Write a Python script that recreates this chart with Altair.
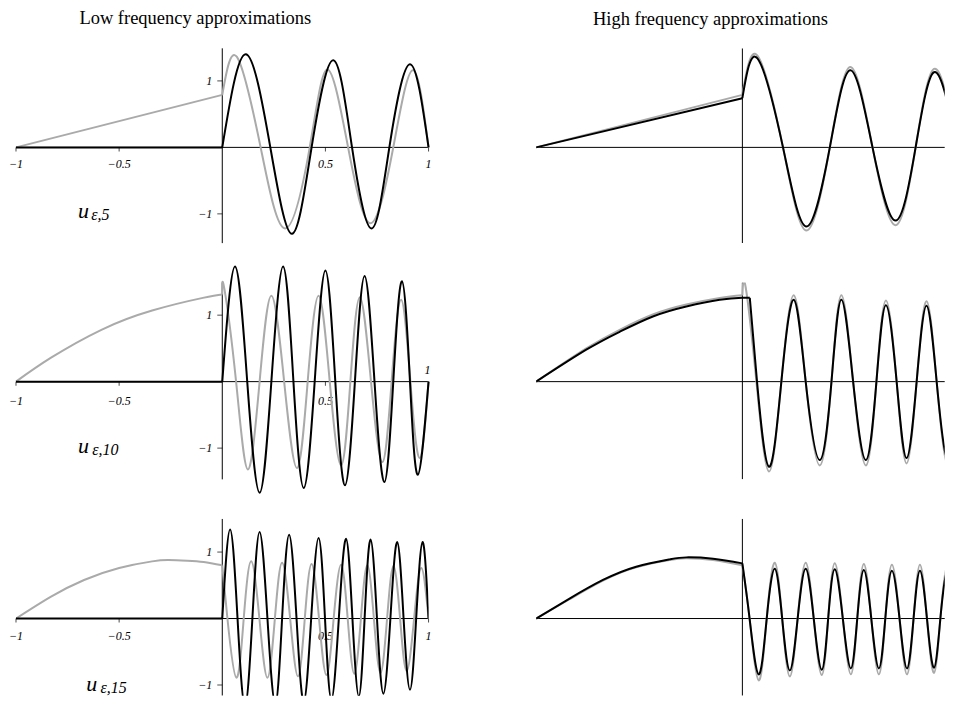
import altair as alt
import pandas as pd

# ---------------- data ----------------
TITLES = ["Low frequency approximations", "High frequency approximations"]
SUBSCRIPTS = ["ε,5", "ε,10", "ε,15"]
X_TICKS = [-1, -0.5, 0.5, 1]
X_TICK_LABELS = ["−1", "−0.5", "0.5", "1"]
Y_TICKS = [1, -1]
Y_TICK_LABELS = ["1", "−1"]

# Row 1, low frequency
L1_BLACK_LX = [-1, 0]
L1_BLACK_LY = [0, 0]
L1_BLACK_RX = [0, 0.114, 0.233, 0.338, 0.433, 0.538, 0.629, 0.724, 0.810, 0.910, 1.0]
L1_BLACK_RY = [0, 1.40, 0, -1.30, 0, 1.31, 0, -1.22, 0, 1.25, 0]
L1_GRAY_LX = [-1, 0]
L1_GRAY_LY = [0, 0.79]
L1_GRAY_RX = [0, 0.071, 0.186, 0.305, 0.424, 0.510, 0.610, 0.719, 0.829, 0.924, 1.0]
L1_GRAY_RY = [0.79, 1.36, 0, -1.22, 0, 1.17, 0, -1.14, 0, 1.16, 0]

# Row 1, high frequency
R1_LX = [-1, 0]
R1_BLACK_LY = [0, 0.74]
R1_GRAY_LY = [0, 0.79]
R1_RX = [0, 0.073, 0.197, 0.311, 0.424, 0.524, 0.631, 0.743, 0.840, 0.929, 1.023]
R1_BLACK_RY = [0.74, 1.34, 0, -1.19, 0, 1.16, 0, -1.10, 0, 1.13, 0.29]
R1_GRAY_RY = [0.79, 1.38, 0, -1.25, 0, 1.21, 0, -1.17, 0, 1.18, 0.31]

# Row 2, low frequency
L2_BLACK_LX = [-1, 0]
L2_BLACK_LY = [0, 0]
L2_BLACK_RX = [0, 0.062, 0.121, 0.181, 0.238, 0.295, 0.345, 0.395, 0.448, 0.500, 0.548,
               0.595, 0.643, 0.690, 0.738, 0.786, 0.829, 0.871, 0.910, 0.948, 1.0]
L2_BLACK_RY = [0, 1.73, 0, -1.67, 0, 1.73, 0, -1.60, 0, 1.67, 0,
               -1.56, 0, 1.59, 0, -1.51, 0, 1.51, 0, -1.40, 0]
L2_GRAY_LX = [-1, -0.83, -0.586, -0.34, -0.094, 0]
L2_GRAY_LY = [0, 0.36, 0.78, 1.07, 1.26, 1.31]
L2_GRAY_RX = [0, 0.010, 0.067, 0.124, 0.181, 0.238, 0.300, 0.362, 0.414, 0.467, 0.521,
              0.576, 0.621, 0.667, 0.721, 0.776, 0.821, 0.867, 0.912, 0.957, 1.0]
L2_GRAY_RY = [1.31, 1.40, 0, -1.32, 0, 1.29, 0, -1.30, 0, 1.29, 0,
              -1.26, 0, 1.27, 0, -1.21, 0, 1.23, 0, -1.15, 0]

# Row 2, high frequency
R2_BLACK_LX = [-1, -0.757, -0.595, -0.434, -0.272, -0.110, 0, 0.036]
R2_BLACK_LY = [0, 0.48, 0.75, 0.98, 1.13, 1.23, 1.26, 1.26]
R2_GRAY_LX = [-1, -0.757, -0.595, -0.434, -0.272, -0.110, 0]
R2_GRAY_LY = [0, 0.50, 0.78, 1.01, 1.16, 1.26, 1.30]
R2_BLACK_RX = [0.036, 0.071, 0.129, 0.189, 0.249, 0.307, 0.375, 0.432, 0.480, 0.537,
               0.599, 0.650, 0.696, 0.748, 0.796, 0.845, 0.893, 0.942, 0.990, 1.023]
R2_BLACK_RY = [1.26, 0, -1.28, 0, 1.23, 0, -1.18, 0, 1.23, 0,
               -1.18, 0, 1.15, 0, -1.15, 0, 1.14, 0, -1.13, -0.35]
R2_GRAY_RX = [0, 0.016, 0.068, 0.129, 0.189, 0.249, 0.307, 0.375, 0.432, 0.480, 0.537,
              0.599, 0.650, 0.696, 0.748, 0.796, 0.845, 0.893, 0.942, 0.990, 1.023]
R2_GRAY_RY = [1.30, 1.42, 0, -1.35, 0, 1.30, 0, -1.26, 0, 1.30, 0,
              -1.26, 0, 1.22, 0, -1.23, 0, 1.21, 0, -1.21, -0.37]

# Row 3, low frequency
L3_BLACK_LX = [-1, 0]
L3_BLACK_LY = [0, 0]
L3_BLACK_RX = [0, 0.038, 0.074, 0.110, 0.146, 0.181, 0.219, 0.257, 0.290, 0.324, 0.360,
               0.395, 0.431, 0.467, 0.498, 0.529, 0.565, 0.600, 0.631, 0.662, 0.690,
               0.719, 0.750, 0.781, 0.815, 0.848, 0.879, 0.910, 0.940, 0.971, 1.0]
L3_BLACK_RY = [0, 1.34, 0, -1.32, 0, 1.30, 0, -1.29, 0, 1.26, 0,
               -1.25, 0, 1.21, 0, -1.22, 0, 1.20, 0, -1.17, 0,
               1.19, 0, -1.13, 0, 1.15, 0, -1.07, 0, 1.15, 0]
L3_GRAY_LX = [-1, -0.83, -0.67, -0.50, -0.34, -0.26, -0.17, -0.09, 0]
L3_GRAY_LY = [0, 0.33, 0.58, 0.76, 0.86, 0.88, 0.87, 0.85, 0.80]
L3_GRAY_RX = [0, 0.025, 0.068, 0.104, 0.140, 0.180, 0.219, 0.255, 0.290, 0.329,
              0.367, 0.400, 0.433, 0.469, 0.505, 0.540, 0.576, 0.608, 0.640, 0.672,
              0.703, 0.735, 0.767, 0.799, 0.830, 0.862, 0.894, 0.930, 0.965, 1.0]
L3_GRAY_RY = [0.80, 0, -0.89, 0, 0.86, 0, -0.89, 0, 0.84, 0,
              -0.87, 0, 0.82, 0, -0.85, 0, 0.81, 0, -0.83, 0,
              0.80, 0, -0.82, 0, 0.79, 0, -0.79, 0, 0.76, 0]

# Row 3, high frequency
R3_LX = [-1, -0.838, -0.676, -0.515, -0.353, -0.272, -0.142, 0]
R3_BLACK_LY = [0, 0.30, 0.58, 0.78, 0.89, 0.92, 0.90, 0.83]
R3_GRAY_LY = [0, 0.29, 0.57, 0.77, 0.88, 0.905, 0.88, 0.80]
R3_RX = [0, 0.035, 0.079, 0.118, 0.157, 0.193, 0.230, 0.268, 0.307, 0.346,
         0.385, 0.416, 0.448, 0.487, 0.526, 0.557, 0.589, 0.625, 0.662, 0.693,
         0.725, 0.762, 0.798, 0.830, 0.861, 0.895, 0.929, 0.960, 0.992, 1.023]
R3_BLACK_RY = [0.83, 0, -0.84, 0, 0.75, 0, -0.78, 0, 0.75, 0,
               -0.77, 0, 0.74, 0, -0.75, 0, 0.73, 0, -0.75, 0,
               0.72, 0, -0.75, 0, 0.72, 0, -0.74, 0, 0.70, 0.33]
R3_GRAY_RY = [0.80, 0, -0.93, 0, 0.84, 0, -0.87, 0, 0.84, 0,
              -0.85, 0, 0.83, 0, -0.84, 0, 0.82, 0, -0.84, 0,
              0.81, 0, -0.84, 0, 0.81, 0, -0.82, 0, 0.78, 0.36]

# ---------------- layout / style ----------------
LEFT_W = 413
RIGHT_W = 409
LEFT_XDOM = [-1, 1]
RIGHT_XDOM = [-1, 0.981]
ROW_DOMAINS = [[-1.44, 1.49], [-1.47, 1.49], [-1.16, 1.50]]
ROW_HEIGHTS = [195, 197, 177]
GRAY = "#aaaaaa"
SERIF = "Liberation Serif"


def sc(dom):
    return alt.Scale(domain=dom, nice=False, zero=False)


def curves(segments, color, xsc, ysc, clip):
    frames = [pd.DataFrame({"x": xs, "y": ys, "seg": i}) for i, (xs, ys) in enumerate(segments)]
    df = pd.concat(frames, ignore_index=True)
    return alt.Chart(df).mark_line(interpolate="natural", color=color, strokeWidth=2, clip=clip).encode(
        x=alt.X("x:Q", scale=xsc, axis=None),
        y=alt.Y("y:Q", scale=ysc, axis=None),
        detail="seg:N",
    )


def axes(xsc, ysc, dom, xmax, clip):
    xa = alt.Chart(pd.DataFrame({"x": [-1], "x2": [xmax], "y": [0]})).mark_rule(
        color="black", strokeWidth=1, clip=clip).encode(
        x=alt.X("x:Q", scale=xsc, axis=None), x2="x2:Q",
        y=alt.Y("y:Q", scale=ysc, axis=None))
    ya = alt.Chart(pd.DataFrame({"x": [0], "y": [dom[0]], "y2": [dom[1]]})).mark_rule(
        color="black", strokeWidth=1, clip=clip).encode(
        x=alt.X("x:Q", scale=xsc, axis=None),
        y=alt.Y("y:Q", scale=ysc, axis=None), y2="y2:Q")
    return [xa, ya]


U_POS = [(-0.70, -1.06, -0.635, -1.09), (-0.70, -1.08, -0.63, -1.11), (-0.66, -1.09, -0.59, -1.12)]


def title(text, dx):
    return alt.TitleParams(text, font=SERIF, fontSize=18.5, fontWeight="normal",
                           color="black", anchor="middle", dx=dx, offset=20.2)


def left_panel(r, gray_segs, black_segs):
    dom = ROW_DOMAINS[r]
    xsc = sc(LEFT_XDOM)
    ysc = sc(dom)
    clip = r == 2
    layers = axes(xsc, ysc, dom, 1, clip)
    xt = pd.DataFrame({"x": X_TICKS, "y": [0] * len(X_TICKS), "t": X_TICK_LABELS})
    yt = pd.DataFrame({"x": [0] * len(Y_TICKS), "y": Y_TICKS, "t": Y_TICK_LABELS})
    enc = dict(x=alt.X("x:Q", scale=xsc, axis=None), y=alt.Y("y:Q", scale=ysc, axis=None))
    layers.append(alt.Chart(xt).mark_tick(orient="vertical", size=4, thickness=1,
                                          yOffset=2, color="black").encode(**enc))
    layers.append(alt.Chart(yt).mark_tick(orient="horizontal", size=5, thickness=1,
                                          xOffset=-2.5, color="black").encode(**enc))
    if r == 1:
        below = xt[xt["x"] < 1]
        above = xt[xt["x"] == 1]
        layers.append(alt.Chart(below).mark_text(dy=19, font=SERIF, fontStyle="italic", fontSize=12,
                                                 baseline="middle").encode(text="t:N", **enc))
        layers.append(alt.Chart(above).mark_text(dy=-12, dx=-1, font=SERIF, fontStyle="italic", fontSize=12,
                                                 baseline="middle").encode(text="t:N", **enc))
    else:
        layers.append(alt.Chart(xt).mark_text(dy=17, font=SERIF, fontStyle="italic", fontSize=12,
                                              baseline="middle").encode(text="t:N", **enc))
    layers.append(alt.Chart(yt).mark_text(dx=-10, align="right", font=SERIF, fontStyle="italic",
                                          fontSize=12, baseline="middle").encode(text="t:N", **enc))
    ux, uy, sx, sy = U_POS[r]
    layers.append(alt.Chart(pd.DataFrame({"x": [ux], "y": [uy], "t": ["u"]})).mark_text(
        align="left", baseline="alphabetic", font=SERIF, fontStyle="italic", fontSize=22).encode(
        text="t:N", **enc))
    layers.append(alt.Chart(pd.DataFrame({"x": [sx], "y": [sy], "t": [SUBSCRIPTS[r]]})).mark_text(
        align="left", baseline="alphabetic", font=SERIF, fontStyle="italic", fontSize=16).encode(
        text="t:N", **enc))
    layers.append(curves(gray_segs, GRAY, xsc, ysc, clip))
    layers.append(curves(black_segs, "black", xsc, ysc, clip))
    ch = alt.layer(*layers).properties(width=LEFT_W, height=ROW_HEIGHTS[r])
    if r == 0:
        ch = ch.properties(title=title(TITLES[0], -27))
    return ch


def right_panel(r, gray_segs, black_segs):
    dom = ROW_DOMAINS[r]
    xsc = sc(RIGHT_XDOM)
    ysc = sc(dom)
    layers = axes(xsc, ysc, dom, 1.023, True)
    layers.append(curves(gray_segs, GRAY, xsc, ysc, True))
    layers.append(curves(black_segs, "black", xsc, ysc, True))
    ch = alt.layer(*layers).properties(width=RIGHT_W, height=ROW_HEIGHTS[r])
    if r == 0:
        ch = ch.properties(title=title(TITLES[1], -30))
    return ch


panels = [
    left_panel(0, [(L1_GRAY_LX, L1_GRAY_LY), (L1_GRAY_RX, L1_GRAY_RY)],
               [(L1_BLACK_LX, L1_BLACK_LY), (L1_BLACK_RX, L1_BLACK_RY)]),
    right_panel(0, [(R1_LX, R1_GRAY_LY), (R1_RX, R1_GRAY_RY)],
                [(R1_LX, R1_BLACK_LY), (R1_RX, R1_BLACK_RY)]),
    left_panel(1, [(L2_GRAY_LX, L2_GRAY_LY), (L2_GRAY_RX, L2_GRAY_RY)],
               [(L2_BLACK_LX, L2_BLACK_LY), (L2_BLACK_RX, L2_BLACK_RY)]),
    right_panel(1, [(R2_GRAY_LX, R2_GRAY_LY), (R2_GRAY_RX, R2_GRAY_RY)],
                [(R2_BLACK_LX, R2_BLACK_LY), (R2_BLACK_RX, R2_BLACK_RY)]),
    left_panel(2, [(L3_GRAY_LX, L3_GRAY_LY), (L3_GRAY_RX, L3_GRAY_RY)],
               [(L3_BLACK_LX, L3_BLACK_LY), (L3_BLACK_RX, L3_BLACK_RY)]),
    right_panel(2, [(R3_LX, R3_GRAY_LY), (R3_RX, R3_GRAY_RY)],
                [(R3_LX, R3_BLACK_LY), (R3_RX, R3_BLACK_RY)]),
]

chart = alt.concat(*panels, columns=2, spacing={"row": 39.5, "column": 107.7},
                   bounds="flush").properties(
    padding={"left": 0, "top": 0, "right": 0, "bottom": 0},
    background="white",
).configure_view(strokeWidth=0)

chart.save("out.html", embed_options={"renderer": "svg", "actions": False})
